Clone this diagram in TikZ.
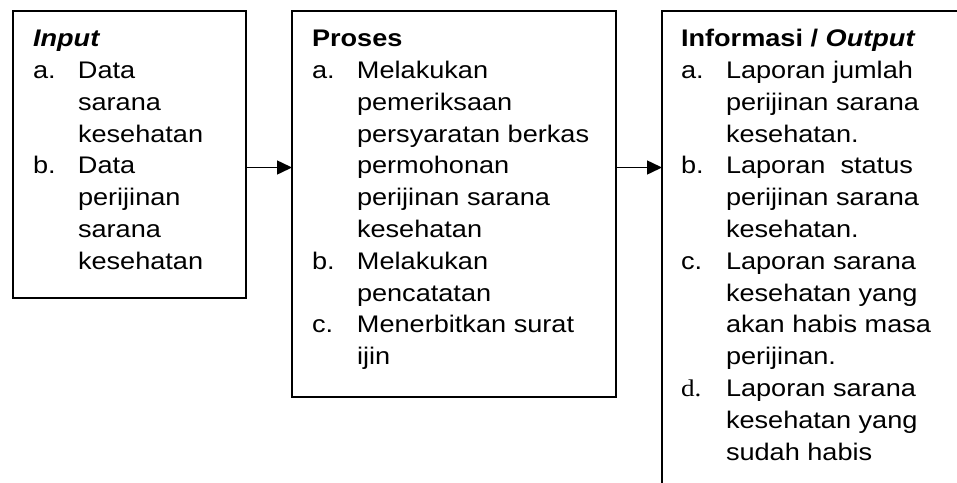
\documentclass[tikz,border=0pt]{standalone}
\usepackage{fontspec}
\setmainfont{Liberation Sans}[FakeStretch=1.13]
\newfontfamily\labelserif{Liberation Serif}[FakeStretch=1.13]
\usetikzlibrary{arrows.meta}

\begin{document}
\begin{tikzpicture}[x=1pt,y=-1pt,
  frame/.style={draw,line width=1.5pt,anchor=north west,inner sep=0pt,outer sep=0pt},
  txt/.style={anchor=base west,inner sep=0pt,outer sep=0pt,font=\fontsize{24}{31.8}\selectfont},
  flow/.style={line width=1.5pt,-{Triangle[length=15pt,width=14pt]}}]
\useasboundingbox (0,0) rectangle (957,482);
\clip (0,0) rectangle (957,482);

% boxes
\node[frame,minimum width=233pt,minimum height=287pt] (inbox) at (13,11) {};
\node[frame,minimum width=324pt,minimum height=386pt] (procbox) at (292,11) {};
\node[frame,minimum width=400pt,minimum height=520pt] (outbox) at (662,11) {};

% connectors
\coordinate (row) at (0,167.5);
\draw[flow] (inbox.east |- row) -- (procbox.west |- row);
\draw[flow] (procbox.east |- row) -- (outbox.west |- row);

% input column
\node[txt] (in0) at (33,46.7) {\textbf{\textit{Input}}};
\node[txt] (in1) at (33,78.5) {\makebox[45pt][l]{a.}Data};
\node[txt] (in2) at (78,110.3) {sarana};
\node[txt] (in3) at (78,142.1) {kesehatan};
\node[txt] (in4) at (33,173.9) {\makebox[45pt][l]{b.}Data};
\node[txt] (in5) at (78,205.7) {perijinan};
\node[txt] (in6) at (78,237.5) {sarana};
\node[txt] (in7) at (78,269.3) {kesehatan};

% process column
\node[txt] (pr0) at (312,46.7) {\textbf{Proses}};
\node[txt] (pr1) at (312,78.5) {\makebox[45pt][l]{a.}Melakukan};
\node[txt] (pr2) at (357,110.3) {pemeriksaan};
\node[txt] (pr3) at (357,142.1) {persyaratan berkas};
\node[txt] (pr4) at (357,173.9) {permohonan};
\node[txt] (pr5) at (357,205.7) {perijinan sarana};
\node[txt] (pr6) at (357,237.5) {kesehatan};
\node[txt] (pr7) at (312,269.3) {\makebox[45pt][l]{b.}Melakukan};
\node[txt] (pr8) at (357,301.1) {pencatatan};
\node[txt] (pr9) at (312,332.9) {\makebox[45pt][l]{c.}Menerbitkan surat};
\node[txt] (pr10) at (357,364.7) {ijin};

% output column
\node[txt] (out0) at (681,46.7) {\textbf{Informasi / \textit{Output}}};
\node[txt] (out1) at (681,78.5) {\makebox[45pt][l]{a.}Laporan jumlah};
\node[txt] (out2) at (726,110.3) {perijinan sarana};
\node[txt] (out3) at (726,142.1) {kesehatan.};
\node[txt] (out4) at (681,173.9) {\makebox[45pt][l]{b.}Laporan\ \ status};
\node[txt] (out5) at (726,205.7) {perijinan sarana};
\node[txt] (out6) at (726,237.5) {kesehatan.};
\node[txt] (out7) at (681,269.3) {\makebox[45pt][l]{c.}Laporan sarana};
\node[txt] (out8) at (726,301.1) {kesehatan yang};
\node[txt] (out9) at (726,332.9) {akan habis masa};
\node[txt] (out10) at (726,364.7) {perijinan.};
\node[txt] (out11) at (681,396.5) {\makebox[45pt][l]{\labelserif d.}Laporan sarana};
\node[txt] (out12) at (726,428.3) {kesehatan yang};
\node[txt] (out13) at (726,460.1) {sudah habis};
\end{tikzpicture}
\end{document}
